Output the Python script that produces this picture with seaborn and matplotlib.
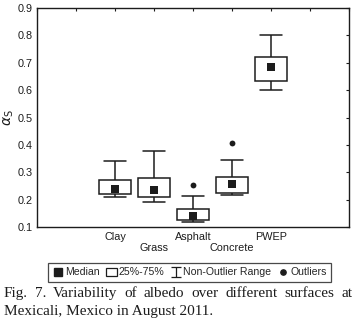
import pandas as pd
import numpy as np
import matplotlib
matplotlib.use('Agg')
import matplotlib.pyplot as plt
from matplotlib.lines import Line2D
from matplotlib.patches import Patch
from matplotlib.path import Path
import seaborn as sns

# values (albedo)
surfaces = ['Clay', 'Grass', 'Asphalt', 'Concrete', 'PWEP']
whisker_low = [0.210, 0.193, 0.120, 0.217, 0.600]
q1 = [0.221, 0.210, 0.128, 0.227, 0.633]
median = [0.241, 0.235, 0.143, 0.258, 0.684]
q3 = [0.272, 0.279, 0.166, 0.283, 0.719]
whisker_high = [0.341, 0.377, 0.213, 0.344, 0.800]
outlier_surface = ['Asphalt', 'Concrete']
outlier_value = [0.253, 0.406]

tick_labels = ['', '', 'Clay', '\nGrass', 'Asphalt', '\nConcrete', 'PWEP', '', '']
caption_1 = 'Fig. 7. Variability of albedo over different surfaces at'
caption_2 = 'Mexicali, Mexico in August 2011.'

# five numbers per box -> boxplot with whis=(0,100) reproduces them
rows = []
for i, s in enumerate(surfaces):
    for v in [whisker_low[i], q1[i], median[i], q3[i], whisker_high[i]]:
        rows.append({'surface': s, 'albedo': v})
df = pd.DataFrame(rows)
med_df = pd.DataFrame({'surface': surfaces, 'albedo': median})
out_df = pd.DataFrame({'surface': outlier_surface, 'albedo': outlier_value})

sns.set_style('white')
plt.rcParams['font.family'] = ['Liberation Sans', 'DejaVu Sans']

ink = '#1c1c1c'
fig, ax = plt.subplots(figsize=(3.56, 3.31), dpi=100)
fig.subplots_adjust(left=0.104, right=0.980, top=0.977, bottom=0.313)

sns.boxplot(data=df, x='surface', y='albedo', order=surfaces, whis=(0, 100),
            width=0.8, color='white', linecolor=ink, linewidth=1.1,
            showfliers=False, medianprops={'visible': False},
            capwidths=0.58, ax=ax)
sns.stripplot(data=med_df, x='surface', y='albedo', order=surfaces, jitter=False,
              marker='s', color=ink, size=5.2, linewidth=0, ax=ax)
sns.stripplot(data=out_df, x='surface', y='albedo', order=surfaces, jitter=False,
              marker='o', color=ink, size=4.2, linewidth=0, ax=ax)

ax.set_xlim(-2, 6)
ax.set_ylim(0.1, 0.9)
ax.set_xticks(range(-2, 7))
ax.set_xticklabels(tick_labels)
ax.set_yticks(np.arange(0.1, 0.91, 0.1))
ax.set_yticklabels([f'{v:.1f}' for v in np.arange(0.1, 0.91, 0.1)])
ax.tick_params(direction='in', length=2.5, width=0.8, top=True, right=True,
               labelsize=7.8, colors=ink, pad=3)
ax.tick_params(axis='x', pad=3)
for sp in ax.spines.values():
    sp.set_color(ink)
    sp.set_linewidth(1.0)
ax.set_xlabel('')
ax.set_ylabel(r'$\alpha_\mathrm{S}$', fontsize=10, color=ink, labelpad=1)

# legend in Statistica style
range_marker = Path([(-1, -1), (1, -1), (0, -1), (0, 1), (-1, 1), (1, 1)],
                    [Path.MOVETO, Path.LINETO, Path.MOVETO, Path.LINETO, Path.MOVETO, Path.LINETO])
handles = [
    Line2D([], [], marker='s', color=ink, linestyle='none', markersize=5.5),
    Patch(facecolor='white', edgecolor=ink, linewidth=0.9),
    Line2D([], [], marker=range_marker, color=ink, linestyle='none',
           markersize=6.5, markeredgewidth=0.9, fillstyle='none'),
    Line2D([], [], marker='o', color=ink, linestyle='none', markersize=3.8),
]
labels = ['Median', '25%-75%', 'Non-Outlier Range', 'Outliers']
leg = fig.legend(handles, labels, loc='center', bbox_to_anchor=(0.532, 0.177),
                 ncol=4, fontsize=7.6, frameon=True, fancybox=False,
                 handlelength=1.1, handleheight=0.8, handletextpad=0.15,
                 columnspacing=0.55, borderpad=0.4, borderaxespad=0)
leg.get_frame().set_edgecolor(ink)
leg.get_frame().set_linewidth(0.9)

# caption: first line justified across the figure width
fig.canvas.draw()
renderer = fig.canvas.get_renderer()
cap_kw = dict(family='Liberation Serif', fontsize=11, color=ink, va='center', ha='left')
x0, x1 = 4 / 356, 352 / 356
words = caption_1.split()
texts = [fig.text(0, 0.113, w, **cap_kw) for w in words]
widths = [t.get_window_extent(renderer).width / fig.bbox.width for t in texts]
gap = (x1 - x0 - sum(widths)) / (len(words) - 1)
x = x0
for t, w in zip(texts, widths):
    t.set_x(x)
    x += w + gap
fig.text(x0, 0.058, caption_2, **cap_kw)

fig.savefig('out.png', dpi=100)
